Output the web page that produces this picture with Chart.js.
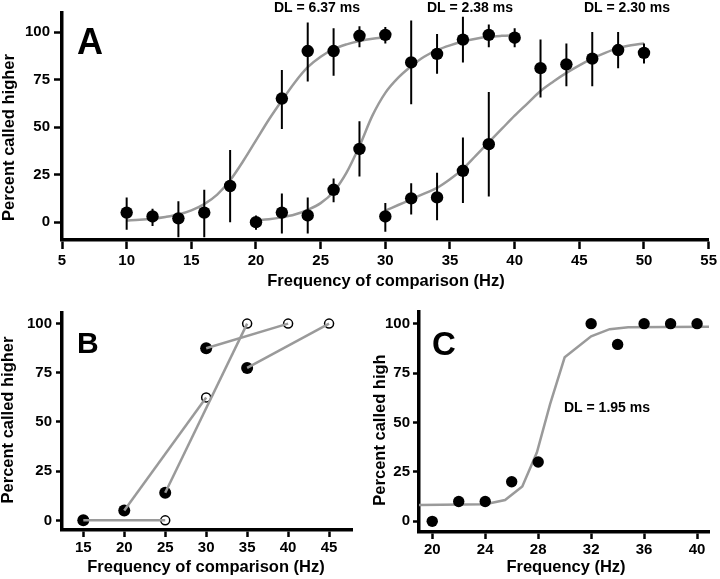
<!DOCTYPE html>
<html><head><meta charset="utf-8">
<script src="https://cdn.jsdelivr.net/npm/chart.js@4.4.0/dist/chart.umd.min.js"></script>
<style>
html,body{margin:0;padding:0;background:#fff;}
body{width:720px;height:579px;position:relative;overflow:hidden;}
.p{position:absolute;}
</style></head><body>
<div class="p" style="left:0;top:0;width:720px;height:300px"><canvas id="cA"></canvas></div>
<div class="p" style="left:0;top:300px;width:360px;height:279px"><canvas id="cB"></canvas></div>
<div class="p" style="left:360px;top:300px;width:360px;height:279px"><canvas id="cC"></canvas></div>
<script>
// ---------- Panel A data ----------
const aFreq1 = [10,12,14,16,18,22,24,26,28,30];
const aPct1  = [5,3,2,5,19,65,90,90,98,98.5];
const aHi1   = [13,7,11,17,38,80,105,102,103,102.6];
const aLo1   = [-4,-2,-8,-8,0,49,74,77,92,94];

const aFreq2 = [20,22,24,26,28,32,34,36,38,40];
const aPct2  = [0,5,3.5,17,38.5,84,88.5,96,98.5,97];
const aHi2   = [3.5,15,13,23,53,106,99,108,104,102];
const aLo2   = [-4,-6,-6,10.5,24,62,78,84,92,92];

const aFreq3 = [30,32,34,36,38,42,44,46,48,50];
const aPct3  = [3,12.5,13,27,41,81,83,86,90.5,89];
const aHi3   = [10,20.5,26,44.5,68.5,96,94,100,100,94];
const aLo3   = [-5,4,1,10,13.5,65.5,71.5,71.5,81,83.5];

const fitX1 = [10,11,12,13,14,15,16,17,18,19,20,21,22,23,24,25,26,27,28,29,30];
const fitY1 = [0.8,1.2,1.8,2.7,4,6.2,9.5,14.5,22,32,43,54,64,73.5,81.5,87,91,93.5,95.3,96.5,97.2];
const fitX2 = [20,21,22,23,24,25,26,27,28,29,30,31,32,33,34,35,36,37,38,39,40];
const fitY2 = [1,1.5,2.5,4,6.5,10,16,26,40,56,68,76,82,87,90.5,93,95,96.5,97.5,98,98.3];
const fitX3 = [30,31,32,33,34,35,36,37,38,39,40,41,42,43,44,45,46,47,48,49,50];
const fitY3 = [6,9,12,15,18,22.5,28,35,42,49,56,62.5,69,74,78.5,82.5,86,89,91.5,93,94];

const aXTicks = [5,10,15,20,25,30,35,40,45,50,55];
const pctTicks = [0,25,50,75,100];
const aDL = ['DL = 6.37 ms','DL = 2.38 ms','DL = 2.30 ms'];

// ---------- Panel B data ----------
const bFilledX = [15,20,25,30,35];
const bFilledY = [0,5,14,87.5,77.5];
const bOpenX   = [25,30,35,40,45];
const bOpenY   = [0,62.5,100,100,100];
const bXTicks  = [15,20,25,30,35,40,45];

// ---------- Panel C data ----------
const cFreq = [20,22,24,26,28,32,34,36,38,40];
const cPct  = [0,10,10,20,30,100,89.5,100,100,100];
const cFitX = [19,24,25.5,26.8,27.9,28.9,30,32,33.4,34.8,41];
const cFitY = [8.2,8.7,10.8,17.6,34.8,59.3,83,93.6,97.2,98.2,98.5];
const cXTicks = [20,24,28,32,36,40];
const cDL = 'DL = 1.95 ms';

// ---------- helpers ----------
const FONT = '"Liberation Sans", Arial, Helvetica, sans-serif';
Chart.defaults.font.family = FONT;
Chart.defaults.font.weight = 'bold';
Chart.defaults.color = '#000';

const zip = (xs, ys) => xs.map((x,i)=>({x, y: ys[i]}));
function errData(xs, lo, hi){
  const out = [];
  xs.forEach((x,i)=>{ out.push({x, y: lo[i]}, {x, y: hi[i]}, {x, y: null}); });
  return out;
}
function axis(min, max, ticks, fit, isX, tickLen, pad){
  return {
    type:'linear', min, max,
    afterBuildTicks: s => { s.ticks = ticks.map(v=>({value:v})); },
    afterFit: s => { if (isX) s.height = fit; else s.width = fit; },
    grid:{display:true, drawOnChartArea:false, drawTicks:true, tickLength:tickLen, tickWidth:2.5, tickColor:'#000'},
    border:{display:true, color:'#000', width:3.5},
    ticks:{color:'#000', font:{size:15, weight:'bold', family:FONT}, padding:pad, maxRotation:0, autoSkip:false,
           callback: v => String(v)}
  };
}
const annot = {
  id:'annot',
  afterDraw(chart, args, opts){
    const ctx = chart.ctx;
    (opts.items||[]).forEach(it=>{
      ctx.save();
      ctx.font = 'bold ' + it.size + 'px ' + FONT;
      ctx.fillStyle = '#000';
      ctx.textAlign = it.align || 'left';
      ctx.textBaseline = 'alphabetic';
      ctx.translate(it.x, it.y);
      if (it.rot) ctx.rotate(-Math.PI/2);
      ctx.fillText(it.text, 0, 0);
      ctx.restore();
    });
  }
};
Chart.register(annot);

const dots = (data, r) => ({type:'scatter', data, pointRadius:r, pointHoverRadius:r, backgroundColor:'#000', borderWidth:0, showLine:false, order:0});
const errs = data => ({type:'scatter', data, showLine:true, spanGaps:false, pointRadius:0, borderColor:'#000', borderWidth:2, order:1});
const fit = (data, smooth) => ({type:'scatter', data, showLine:true, pointRadius:0, borderColor:'#9a9a9a', borderWidth:2.5,
  cubicInterpolationMode: smooth ? 'monotone' : 'default', tension:0, order:2});

const common = {
  responsive:true, maintainAspectRatio:false, animation:false,
  plugins:{legend:{display:false}, tooltip:{enabled:false}}
};

// ---------- Chart A ----------
new Chart(document.getElementById('cA'), {
  type:'scatter',
  data:{datasets:[
    dots(zip(aFreq1,aPct1),6.2), dots(zip(aFreq2,aPct2),6.2), dots(zip(aFreq3,aPct3),6.2),
    errs(errData(aFreq1,aLo1,aHi1)), errs(errData(aFreq2,aLo2,aHi2)), errs(errData(aFreq3,aLo3,aHi3)),
    fit(zip(fitX1,fitY1),true), fit(zip(fitX2,fitY2),true), fit(zip(fitX3,fitY3),true)
  ]},
  options:Object.assign({}, common, {
    layout:{padding:{left:0, top:12, right:9, bottom:0}},
    scales:{
      x: axis(5, 55, aXTicks, 60, true, 9, 3),
      y: axis(-9.4, 110, pctTicks, 62, false, 8, 4)
    },
    plugins:Object.assign({}, common.plugins, {annot:{items:[
      {text:'A', x:77, y:54, size:36},
      {text:aDL[0], x:274, y:12, size:14},
      {text:aDL[1], x:427, y:12, size:14},
      {text:aDL[2], x:584, y:12, size:14},
      {text:'Percent called higher', x:14, y:137.5, size:16.5, rot:true, align:'center'},
      {text:'Frequency of comparison (Hz)', x:386, y:286, size:16.5, align:'center'}
    ]}})
  })
});

// ---------- Chart B ----------
const bLines = bFilledX.map((x,i)=>({type:'scatter', data:[{x, y:bFilledY[i]},{x:bOpenX[i], y:bOpenY[i]}],
  showLine:true, pointRadius:0, borderColor:'#9a9a9a', borderWidth:2.5, order:0}));
new Chart(document.getElementById('cB'), {
  type:'scatter',
  data:{datasets:[
    ...bLines,
    {type:'scatter', data:zip(bFilledX,bFilledY), pointRadius:6, backgroundColor:'#000', borderWidth:0, order:1},
    {type:'scatter', data:zip(bOpenX,bOpenY), pointRadius:4.5, backgroundColor:'rgba(255,255,255,0)', borderColor:'#000', borderWidth:1.5, order:1}
  ]},
  options:Object.assign({}, common, {
    layout:{padding:{left:0, top:5, right:8, bottom:0}},
    scales:{
      x: axis(12.4, 47.8, bXTicks, 49, true, 7, 2),
      y: axis(-4.9, 105.4, pctTicks, 62, false, 6, 4)
    },
    plugins:Object.assign({}, common.plugins, {annot:{items:[
      {text:'B', x:77, y:53, size:30},
      {text:'Percent called higher', x:13, y:120, size:16.5, rot:true, align:'center'},
      {text:'Frequency of comparison (Hz)', x:206, y:272, size:16.5, align:'center'}
    ]}})
  })
});

// ---------- Chart C ----------
new Chart(document.getElementById('cC'), {
  type:'scatter',
  data:{datasets:[
    {type:'scatter', data:zip(cFreq,cPct), pointRadius:5.7, backgroundColor:'#000', borderWidth:0, order:0},
    fit(zip(cFitX,cFitY), false)
  ]},
  options:Object.assign({}, common, {
    layout:{padding:{left:0, top:5, right:11, bottom:0}},
    scales:{
      x: axis(19.0, 40.9, cXTicks, 47, true, 7, 2),
      y: axis(-5.4, 105.9, pctTicks, 59, false, 6, 3)
    },
    plugins:Object.assign({}, common.plugins, {annot:{items:[
      {text:'C', x:72, y:55, size:33},
      {text:cDL, x:204, y:112, size:14},
      {text:'Percent called high', x:25, y:130, size:16.5, rot:true, align:'center'},
      {text:'Frequency (Hz)', x:206, y:272, size:16.5, align:'center'}
    ]}})
  })
});
</script>
</body></html>
